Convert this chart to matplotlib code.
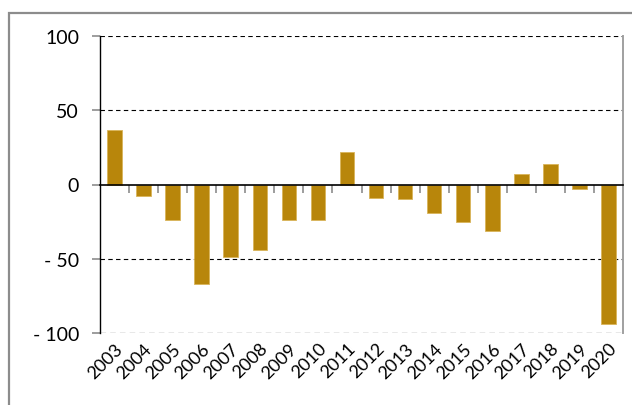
import numpy as np
import matplotlib.pyplot as plt
from matplotlib.patches import Rectangle

plt.rcParams['font.family'] = ['Lato', 'DejaVu Sans']

years = ['2003', '2004', '2005', '2006', '2007', '2008', '2009', '2010', '2011',
         '2012', '2013', '2014', '2015', '2016', '2017', '2018', '2019', '2020']
values = [37, -8, -24, -67, -49, -44, -24, -24, 22,
          -9, -10, -19, -25, -31, 7, 14, -3, -94]
y_ticks = [-100, -50, 0, 50, 100]
y_tick_labels = ['- 100', '- 50', '0', '50', '100']

bar_color = '#B8860B'
grey = '#8C8C8C'

fig = plt.figure(figsize=(6.32, 4.06), dpi=100)
ax = fig.add_axes([100 / 632, 72 / 406, 523 / 632, 297 / 406])

# outer chart frame (runs off the right and bottom edges)
fig.patches.append(Rectangle((9 / 632, -0.1), 1.2, (406 - 14) / 406 + 0.1,
                             transform=fig.transFigure, fill=False,
                             edgecolor=grey, linewidth=1.6, zorder=0))

x = np.arange(len(years))
ax.bar(x, values, width=0.5, color=bar_color, edgecolor='#D9B45A',
       linewidth=0.6, zorder=3)

ax.set_xlim(-0.5, len(years) - 0.5)
ax.set_ylim(-100, 100)

# dashed gridlines, the bottom one grey like the plot frame
for yv in y_ticks:
    if yv == 0:
        continue
    ax.axhline(yv, color=grey if yv == -100 else 'black', linestyle=(0, (4, 3)),
               linewidth=1.0 if yv == -100 else 0.8, zorder=1)

ax.set_yticks(y_ticks)
ax.set_yticklabels(y_tick_labels)
ax.tick_params(axis='y', length=6, width=1.2, color=grey, pad=9, labelsize=14)

# category axis sits on the zero line, with ticks between bars
ax.spines['bottom'].set_position(('data', 0))
ax.spines['bottom'].set_linewidth(1.2)
ax.spines['bottom'].set_zorder(4)
ax.set_xticks(x[:-1] + 0.5)
ax.tick_params(axis='x', length=6, width=1.2, color=grey, labelbottom=False)

ax.spines['top'].set_visible(False)
ax.spines['left'].set_linewidth(1.0)
ax.spines['right'].set_color('#A0A0A0')
ax.spines['right'].set_linewidth(1.4)

# year labels along the bottom
secax = ax.secondary_xaxis(0)
secax.set_xticks(x)
secax.set_xticklabels(years, rotation=45, ha='right', rotation_mode='anchor')
secax.tick_params(length=0, pad=5, labelsize=13)
secax.spines['bottom'].set_visible(False)

fig.savefig('out.png', dpi=100)
